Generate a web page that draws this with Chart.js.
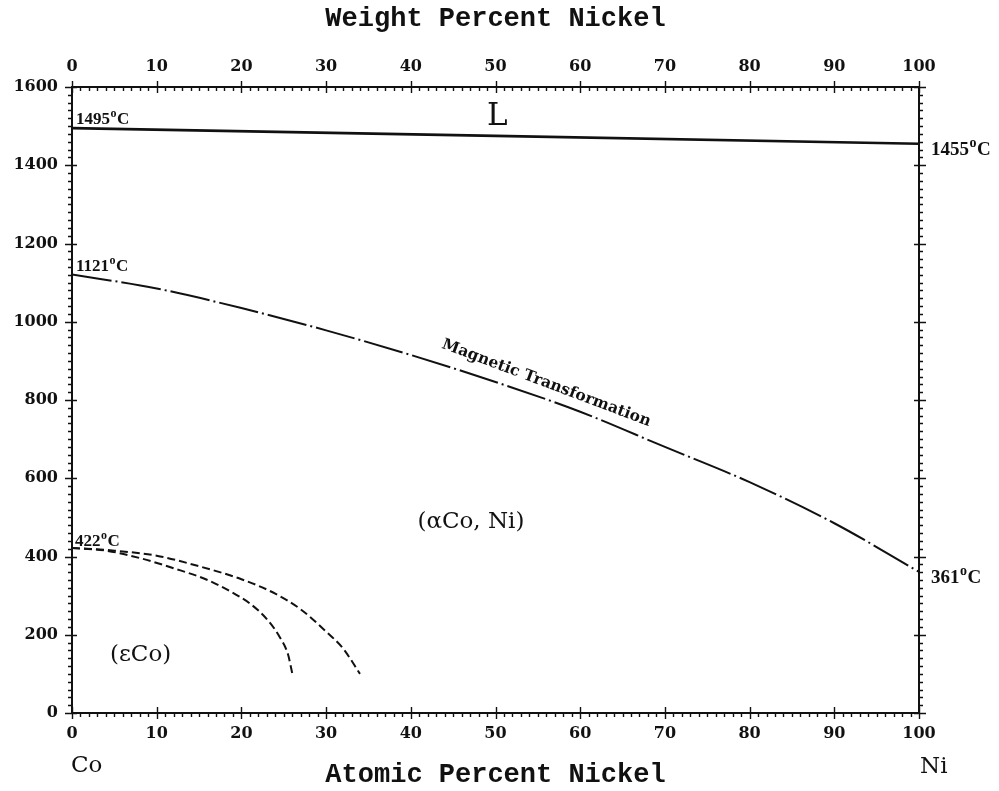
<!DOCTYPE html>
<html><head><meta charset="utf-8">
<script src="https://cdn.jsdelivr.net/npm/chart.js@4"></script>
<style>html,body{margin:0;padding:0;background:#fff}</style>
</head><body>
<canvas id="c" width="999" height="791"></canvas>
<script>
// ---- data ----
const xTickValues = [0,10,20,30,40,50,60,70,80,90,100];
const yTickValues = [0,200,400,600,800,1000,1200,1400,1600];

const liquidusX = [0, 50, 100];
const liquidusT = [1495, 1475, 1455];

const magneticX = [0,10,20,30,40,50,60,70,80,90,100];
const magneticT = [1121,1085,1035,978,915,846,770,680,590,485,361];

const epsOuterX = [0,5,10,15,20,24,27,30,32,34];
const epsOuterT = [422,415,402,375,342,305,265,208,165,100];

const epsInnerX = [0,4,8,12,16,19,21,23,24.5,25.5,26];
const epsInnerT = [422,415,396,370,340,307,280,240,195,150,102];

const tempLabels = ['1495','1455','1121','422','361'];
const tempValues = [1495,1455,1121,422,361];

const pts = (xs, ts) => xs.map((v,i)=>({x:v, y:ts[i]}));

const INK = '#111';

function degLabel(ctx, txt, x, y, size) {
  ctx.font = `bold ${size}px "Liberation Serif"`;
  const w1 = ctx.measureText(txt).width;
  ctx.fillText(txt, x, y);
  ctx.font = `bold ${Math.round(size*0.72)}px "Liberation Serif"`;
  const w2 = ctx.measureText('o').width;
  ctx.fillText('o', x + w1 + 0.5, y - size*0.42);
  ctx.font = `bold ${size}px "Liberation Serif"`;
  ctx.fillText('C', x + w1 + w2 + 1, y);
}

const tickPlugin = {
  id: 'tickMarks',
  afterDraw(chart) {
    const ctx = chart.ctx, a = chart.chartArea;
    const sx = chart.scales.x, sy = chart.scales.y;
    ctx.save();
    ctx.strokeStyle = INK;
    ctx.lineWidth = 1.4;
    ctx.beginPath();
    for (let v = 0; v <= 100; v++) {
      const px = Math.round(sx.getPixelForValue(v)) + 0.5;
      const major = v % 10 === 0;
      if (major) {
        ctx.moveTo(px, a.bottom - 6); ctx.lineTo(px, a.bottom + 6);
        ctx.moveTo(px, a.top - 6); ctx.lineTo(px, a.top + 6);
      } else {
        ctx.moveTo(px, a.bottom); ctx.lineTo(px, a.bottom + 4);
        ctx.moveTo(px, a.top); ctx.lineTo(px, a.top + 4);
      }
    }
    for (let t = 0; t <= 1600; t += 20) {
      const py = Math.round(sy.getPixelForValue(t)) + 0.5;
      const major = t % 200 === 0;
      if (major) {
        ctx.moveTo(a.left - 7, py); ctx.lineTo(a.left + 5, py);
        ctx.moveTo(a.right - 5, py); ctx.lineTo(a.right + 7, py);
      } else {
        ctx.moveTo(a.left - 4, py); ctx.lineTo(a.left, py);
        ctx.moveTo(a.right, py); ctx.lineTo(a.right + 4, py);
      }
    }
    ctx.stroke();
    ctx.restore();
  }
};

const labelPlugin = {
  id: 'phaseLabels',
  afterDatasetsDraw(chart) {
    const ctx = chart.ctx;
    const sx = chart.scales.x, sy = chart.scales.y;
    const X = v => sx.getPixelForValue(v), Y = v => sy.getPixelForValue(v);
    ctx.save();
    ctx.fillStyle = INK;
    ctx.textBaseline = 'alphabetic';
    ctx.textAlign = 'left';
    // temperature labels
    degLabel(ctx, tempLabels[0], X(0) + 4, Y(tempValues[0]) - 4, 17);
    degLabel(ctx, tempLabels[1], X(100) + 12, Y(tempValues[1]) + 11, 19);
    degLabel(ctx, tempLabels[2], X(0) + 4, Y(tempValues[2]) - 3, 17);
    degLabel(ctx, tempLabels[3], X(0) + 3, Y(tempValues[3]) - 2, 17);
    degLabel(ctx, tempLabels[4], X(100) + 12, Y(tempValues[4]) + 11, 19);

    ctx.textAlign = 'center';
    ctx.textBaseline = 'middle';
    ctx.font = '31px "DejaVu Serif"';
    ctx.fillText('L', X(50.2), Y(1523));
    ctx.font = '23px "DejaVu Serif"';
    ctx.fillText('(\u03B1Co, Ni)', X(47.1), Y(488));
    ctx.fillText('(\u03B5Co)', X(8.1), Y(148));

    // Co / Ni labels below axis
    ctx.font = '23px "DejaVu Serif"';
    ctx.textAlign = 'left';
    ctx.fillText('Co', X(0) - 1, 766);
    ctx.fillText('Ni', X(100) + 1, 767);

    // rotated magnetic label
    ctx.save();
    ctx.translate(X(56.0), Y(843));
    ctx.rotate(20.7 * Math.PI / 180);
    ctx.textAlign = 'center';
    ctx.font = 'bold 15.5px "DejaVu Serif"';
    ctx.fillText('Magnetic Transformation', 0, 0);
    ctx.restore();
    ctx.restore();
  }
};

const tickFont = {family: '"DejaVu Serif"', size: 16, weight: 'bold'};
const titleFont = {family: '"Liberation Mono"', size: 27, weight: 'bold'};
const plainNum = v => String(v);

new Chart(document.getElementById('c'), {
  type: 'scatter',
  data: {
    datasets: [
      {data: pts(liquidusX, liquidusT), showLine: true, borderColor: INK, borderWidth: 2.6, pointRadius: 0, tension: 0},
      {data: pts(magneticX, magneticT), showLine: true, borderColor: INK, borderWidth: 2, pointRadius: 0,
        cubicInterpolationMode: 'monotone', borderDash: [40, 4, 2, 4]},
      {data: pts(epsOuterX, epsOuterT), showLine: true, borderColor: INK, borderWidth: 2, pointRadius: 0,
        cubicInterpolationMode: 'monotone', borderDash: [8, 4]},
      {data: pts(epsInnerX, epsInnerT), showLine: true, borderColor: INK, borderWidth: 2, pointRadius: 0,
        cubicInterpolationMode: 'monotone', borderDash: [8, 4]}
    ]
  },
  options: {
    responsive: false,
    animation: false,
    events: [],
    layout: {padding: 0},
    plugins: {legend: {display: false}, tooltip: {enabled: false}},
    scales: {
      x: {
        type: 'linear', position: 'bottom', min: 0, max: 100,
        afterFit: s => { s.height = 78; },
        afterBuildTicks: s => { s.ticks = xTickValues.map(v => ({value: v})); },
        ticks: {font: tickFont, color: INK, padding: 11, maxRotation: 0, callback: plainNum},
        grid: {display: false, drawTicks: false},
        border: {display: true, color: INK, width: 2},
        title: {display: true, text: 'Atomic Percent Nickel', font: titleFont, color: INK, padding: {top: 0, bottom: 0}}
      },
      x2: {
        type: 'linear', position: 'top', min: 0, max: 100,
        afterFit: s => { s.height = 87; },
        afterBuildTicks: s => { s.ticks = xTickValues.map(v => ({value: v})); },
        ticks: {font: tickFont, color: INK, padding: 11, maxRotation: 0, callback: plainNum},
        grid: {display: false, drawTicks: false},
        border: {display: true, color: INK, width: 2},
        title: {display: true, text: 'Weight Percent Nickel', font: titleFont, color: INK, padding: {top: 3, bottom: 0}}
      },
      y: {
        type: 'linear', position: 'left', min: 0, max: 1600,
        afterFit: s => { s.width = 72; },
        afterBuildTicks: s => { s.ticks = yTickValues.map(v => ({value: v})); },
        ticks: {font: tickFont, color: INK, padding: 14, callback: plainNum},
        grid: {display: false, drawTicks: false},
        border: {display: true, color: INK, width: 2}
      },
      y2: {
        type: 'linear', position: 'right', min: 0, max: 1600,
        afterFit: s => { s.width = 80; },
        ticks: {display: false},
        grid: {display: false, drawTicks: false},
        border: {display: true, color: INK, width: 2}
      }
    }
  },
  plugins: [tickPlugin, labelPlugin]
});
</script>
</body></html>
